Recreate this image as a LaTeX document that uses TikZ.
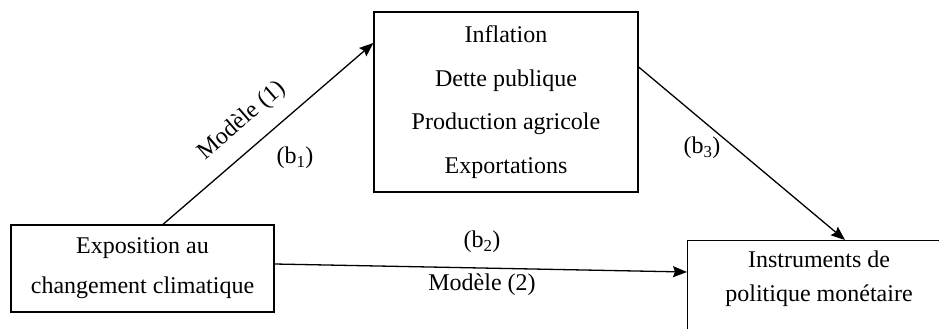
\documentclass[tikz,border=0pt]{standalone}
\usepackage{fontspec}
\setmainfont{Liberation Serif}
\usetikzlibrary{arrows.meta}
\begin{document}
\begin{tikzpicture}[x=1pt,y=-1pt,
  box/.style={draw, line width=1.3pt, rectangle, inner sep=0pt, align=center},
  lbl/.style={font=\fontsize{24}{28}\selectfont, inner sep=0pt},
  arr/.style={line width=1.3pt, -{Stealth[length=14pt,width=11pt,inset=2pt]}}]
\useasboundingbox (0,0) rectangle (939,329);
\clip (0,0) rectangle (939,329);
\fill[white] (0,0) rectangle (939,329);
\node[box, minimum width=263pt, minimum height=87pt, font=\fontsize{24}{40}\selectfont] (exp) at (142.5,268.5) {Exposition au\\changement climatique};
\node[box, minimum width=264pt, minimum height=180pt, font=\fontsize{24}{43.7}\selectfont] (infl) at (506,102) {Inflation\\Dette publique\\Production agricole\\Exportations};
\node[box, minimum width=320pt, minimum height=140pt, anchor=north west] (pol) at (687,240) {};
\node[font=\fontsize{24}{33.5}\selectfont, align=center, inner sep=0pt] (polt) at (819,278.5) {Instruments de\\politique monétaire};
\draw[arr] ([xshift=20.5pt]exp.north) -- ([yshift=59pt]infl.west);
\draw[arr] ([yshift=35pt]infl.east) -- ([xshift=158pt]pol.north west);
\draw[arr] ([yshift=4.5pt]exp.east) -- ([yshift=-32pt]pol.north west);
\node[lbl, rotate=41] (m1) at (242,121) {Modèle (1)};
\node[lbl] (b1) at (295,158) {(b\textsubscript{1})};
\node[lbl] (b3) at (702,148) {(b\textsubscript{3})};
\node[lbl] (b2) at (482,242) {(b\textsubscript{2})};
\node[lbl] (m2) at (482,285) {Modèle (2)};
\end{tikzpicture}
\end{document}
